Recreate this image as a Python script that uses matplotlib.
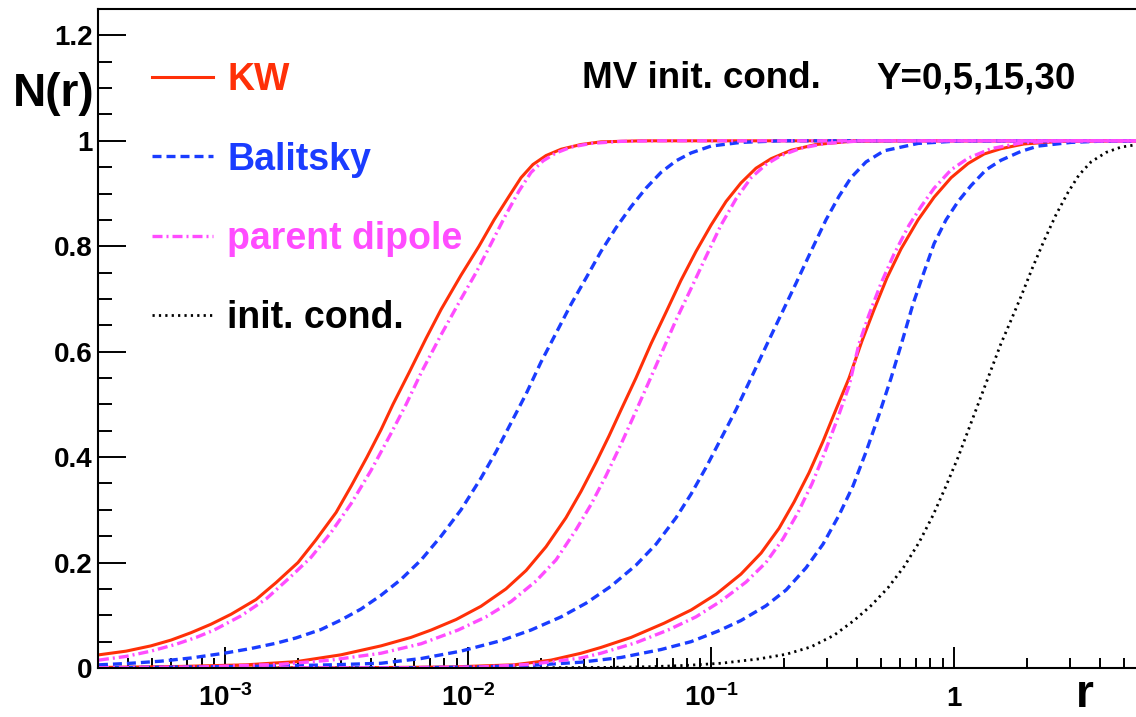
import numpy as np
import matplotlib.pyplot as plt
from matplotlib.lines import Line2D
from matplotlib.ticker import FixedLocator, FixedFormatter, MultipleLocator, LogLocator, NullFormatter

plt.rcParams['font.family'] = ['Liberation Sans', 'DejaVu Sans']
plt.rcParams['font.weight'] = 'bold'
plt.rcParams['mathtext.fontset'] = 'custom'
plt.rcParams['mathtext.rm'] = 'Liberation Sans:bold'
plt.rcParams['mathtext.bf'] = 'Liberation Sans:bold'
plt.rcParams['mathtext.it'] = 'Liberation Sans:bold'
plt.rcParams['mathtext.default'] = 'rm'

# dipole amplitude N(r); r given as log10(r)
kw_y30_logr = [-3.519, -3.407, -3.305, -3.222, -3.140, -3.058, -2.975, -2.872, -2.790, -2.700,
               -2.626, -2.543, -2.481, -2.416, -2.358, -2.309, -2.243, -2.173, -2.111, -2.029,
               -1.955, -1.893, -1.831, -1.782, -1.733, -1.679, -1.617, -1.535, -1.453, -1.288, 1.0]
kw_y30_n = [0.025, 0.032, 0.042, 0.053, 0.067, 0.083, 0.102, 0.13, 0.162, 0.2,
            0.243, 0.295, 0.345, 0.4, 0.452, 0.5, 0.56, 0.625, 0.68, 0.745,
            0.8, 0.85, 0.895, 0.93, 0.955, 0.972, 0.984, 0.993, 0.998, 1.0, 1.0]

pd_y30_logr = [-3.519, -3.407, -3.305, -3.202, -3.119, -3.045, -2.934, -2.831, -2.728, -2.646,
               -2.564, -2.481, -2.399, -2.317, -2.255, -2.193, -2.111, -2.029, -1.967, -1.905,
               -1.844, -1.790, -1.741, -1.691, -1.638, -1.576, -1.494, -1.370, -1.206, 1.0]
pd_y30_n = [0.015, 0.022, 0.032, 0.045, 0.058, 0.072, 0.099, 0.131, 0.174, 0.21,
            0.257, 0.312, 0.375, 0.445, 0.5, 0.56, 0.632, 0.7, 0.75, 0.805,
            0.86, 0.905, 0.94, 0.962, 0.977, 0.988, 0.995, 0.999, 1.0, 1.0]

bal_y30_logr = [-3.519, -3.387, -3.263, -3.140, -3.004, -2.893, -2.790, -2.708, -2.605, -2.523,
                -2.440, -2.358, -2.276, -2.193, -2.111, -2.029, -1.947, -1.885, -1.823, -1.761,
                -1.700, -1.638, -1.576, -1.514, -1.453, -1.391, -1.329, -1.268, -1.206, -1.144,
                -1.082, -1.0, -0.877, -0.712, 1.0]
bal_y30_n = [0.006, 0.009, 0.013, 0.019, 0.028, 0.037, 0.047, 0.057, 0.073, 0.091,
             0.112, 0.138, 0.168, 0.205, 0.25, 0.3, 0.36, 0.41, 0.465, 0.52,
             0.58, 0.635, 0.69, 0.74, 0.79, 0.835, 0.875, 0.91, 0.94, 0.962,
             0.977, 0.99, 0.997, 1.0, 1.0]

kw_y15_logr = [-3.519, -3.181, -2.914, -2.708, -2.523, -2.358, -2.235, -2.152, -2.049, -1.947,
               -1.844, -1.761, -1.679, -1.597, -1.535, -1.473, -1.420, -1.370, -1.309, -1.247,
               -1.185, -1.124, -1.062, -1.0, -0.938, -0.877, -0.815, -0.753, -0.671, -0.568,
               -0.424, -0.218, 1.0]
kw_y15_n = [0.001, 0.003, 0.006, 0.012, 0.025, 0.042, 0.058, 0.072, 0.092, 0.117,
            0.15, 0.185, 0.23, 0.285, 0.335, 0.39, 0.44, 0.49, 0.55, 0.615,
            0.675, 0.735, 0.79, 0.84, 0.885, 0.92, 0.948, 0.966, 0.982, 0.993,
            0.999, 1.0, 1.0]

pd_y15_logr = [-3.519, -3.099, -2.770, -2.564, -2.358, -2.193, -2.041, -1.926, -1.823, -1.720,
               -1.638, -1.556, -1.494, -1.432, -1.370, -1.321, -1.268, -1.206, -1.144, -1.082,
               -1.021, -0.959, -0.897, -0.835, -0.774, -0.712, -0.630, -0.527, -0.383, 1.0]
pd_y15_n = [0.0005, 0.002, 0.007, 0.015, 0.028, 0.046, 0.072, 0.097, 0.126, 0.165,
            0.205, 0.262, 0.31, 0.365, 0.425, 0.475, 0.53, 0.595, 0.66, 0.72,
            0.78, 0.84, 0.89, 0.93, 0.955, 0.972, 0.986, 0.995, 1.0, 1.0]

bal_y15_logr = [-3.519, -2.893, -2.564, -2.358, -2.193, -2.029, -1.864, -1.741, -1.617, -1.514,
                -1.412, -1.309, -1.226, -1.144, -1.082, -1.021, -0.959, -0.897, -0.835, -0.774,
                -0.712, -0.650, -0.589, -0.527, -0.473, -0.424, -0.362, -0.288, -0.148, 0.029, 1.0]
bal_y15_n = [0.0005, 0.003, 0.006, 0.009, 0.018, 0.032, 0.052, 0.072, 0.097, 0.123,
             0.155, 0.195, 0.235, 0.285, 0.33, 0.38, 0.435, 0.49, 0.55, 0.61,
             0.67, 0.73, 0.79, 0.85, 0.895, 0.93, 0.96, 0.981, 0.995, 1.0, 1.0]

kw_y5_logr = [-3.519, -2.481, -2.070, -1.811, -1.658, -1.535, -1.453, -1.329, -1.193, -1.082,
              -0.979, -0.877, -0.794, -0.720, -0.658, -0.597, -0.539, -0.486, -0.432, -0.379,
              -0.329, -0.276, -0.218, -0.148, -0.082, -0.012, 0.058, 0.124, 0.193, 0.288,
              0.440, 0.605, 1.0]
kw_y5_n = [0.0, 0.0003, 0.002, 0.006, 0.015, 0.028, 0.039, 0.058, 0.085, 0.11,
           0.14, 0.178, 0.218, 0.265, 0.315, 0.37, 0.43, 0.49, 0.55, 0.62,
           0.68, 0.74, 0.795, 0.85, 0.893, 0.93, 0.957, 0.975, 0.985, 0.994,
           0.999, 1.0, 1.0]

pd_y5_logr = [-3.519, -2.276, -1.947, -1.741, -1.535, -1.453, -1.309, -1.177, -1.062, -0.959,
              -0.856, -0.774, -0.704, -0.642, -0.584, -0.531, -0.482, -0.432, -0.391, -0.350,
              -0.300, -0.247, -0.185, -0.136, -0.082, -0.012, 0.058, 0.152, 0.276, 0.440, 1.0]
pd_y5_n = [0.0, 0.0005, 0.002, 0.007, 0.019, 0.028, 0.048, 0.072, 0.097, 0.127,
           0.163, 0.2, 0.245, 0.295, 0.35, 0.41, 0.47, 0.535, 0.615, 0.67,
           0.73, 0.785, 0.84, 0.875, 0.91, 0.945, 0.967, 0.985, 0.996, 1.0, 1.0]

bal_y5_logr = [-3.519, -2.276, -1.947, -1.741, -1.535, -1.370, -1.206, -1.082, -0.971, -0.877,
               -0.774, -0.691, -0.609, -0.539, -0.473, -0.416, -0.362, -0.309, -0.259, -0.210,
               -0.169, -0.128, -0.082, -0.033, 0.017, 0.070, 0.132, 0.193, 0.276, 0.346,
               0.482, 0.646, 1.0]
bal_y5_n = [0.0, 0.0003, 0.002, 0.005, 0.011, 0.02, 0.035, 0.05, 0.07, 0.09,
            0.118, 0.148, 0.19, 0.235, 0.29, 0.345, 0.41, 0.48, 0.55, 0.625,
            0.69, 0.745, 0.805, 0.85, 0.885, 0.915, 0.945, 0.963, 0.98, 0.99,
            0.997, 1.0, 1.0]

init_logr = [-3.519, -1.864, -1.453, -1.247, -1.099, -0.959, -0.807, -0.691, -0.589, -0.494,
             -0.412, -0.342, -0.272, -0.206, -0.144, -0.086, -0.033, 0.017, 0.062, 0.107,
             0.152, 0.193, 0.235, 0.276, 0.321, 0.370, 0.420, 0.469, 0.514, 0.564,
             0.626, 0.687, 0.770, 1.0]
init_n = [0.0, 0.0002, 0.001, 0.0025, 0.005, 0.009, 0.017, 0.026, 0.04, 0.062,
          0.09, 0.118, 0.152, 0.192, 0.238, 0.29, 0.345, 0.4, 0.455, 0.51,
          0.565, 0.615, 0.66, 0.705, 0.757, 0.81, 0.86, 0.902, 0.935, 0.96,
          0.978, 0.988, 0.994, 1.0]

x_ticks = [1e-3, 1e-2, 1e-1, 1]
x_ticklabels = [r'$10^{-3}$', r'$10^{-2}$', r'$10^{-1}$', '1']
y_ticks = [0, 0.2, 0.4, 0.6, 0.8, 1, 1.2]
y_ticklabels = ['0', '0.2', '0.4', '0.6', '0.8', '1', '1.2']

red = '#ff3008'
blue = '#1a3cff'
magenta = '#ff4cff'

W, H = 1136, 717
fig = plt.figure(figsize=(W / 100, H / 100), dpi=100)
ax = fig.add_axes([98 / W, 49 / H, 1099 / W, 659 / H])

kw_style = dict(color=red, lw=2.2, ls='-')
bal_style = dict(color=blue, lw=2.4, ls=(0, (2.7, 1.5)))
pd_style = dict(color=magenta, lw=2.4, ls=(0, (3.0, 1.2, 0.6, 1.2)))
init_style = dict(color='black', lw=2.0, ls=(0, (0.8, 1.5)))

ax.plot(10 ** np.array(init_logr), init_n, **init_style)
for lr, n in [(kw_y30_logr, kw_y30_n), (kw_y15_logr, kw_y15_n), (kw_y5_logr, kw_y5_n)]:
    ax.plot(10 ** np.array(lr), n, **kw_style)
for lr, n in [(bal_y30_logr, bal_y30_n), (bal_y15_logr, bal_y15_n), (bal_y5_logr, bal_y5_n)]:
    ax.plot(10 ** np.array(lr), n, **bal_style)
for lr, n in [(pd_y30_logr, pd_y30_n), (pd_y15_logr, pd_y15_n), (pd_y5_logr, pd_y5_n)]:
    ax.plot(10 ** np.array(lr), n, **pd_style)

ax.set_xscale('log')
ax.set_xlim(3e-4, 10)
ax.set_ylim(0, 1.25)

ax.xaxis.set_major_locator(FixedLocator(x_ticks))
ax.xaxis.set_major_formatter(FixedFormatter(x_ticklabels))
ax.xaxis.set_minor_locator(LogLocator(base=10, subs=np.arange(2, 10)))
ax.xaxis.set_minor_formatter(NullFormatter())
ax.yaxis.set_major_locator(FixedLocator(y_ticks))
ax.yaxis.set_major_formatter(FixedFormatter(y_ticklabels))
ax.yaxis.set_minor_locator(MultipleLocator(0.05))

ax.tick_params(axis='both', which='both', direction='in', width=1.4, labelsize=20)
ax.tick_params(axis='y', which='major', length=20, pad=4)
ax.tick_params(axis='y', which='minor', length=10)
ax.tick_params(axis='x', which='major', length=15, pad=11.5)
ax.tick_params(axis='x', which='minor', length=7.5)
# the plain "1" label has no exponent, push it down to line up with the "10"s
ax.xaxis.get_major_ticks()[3].set_pad(13)
for s in ax.spines.values():
    s.set_linewidth(1.5)

fig.text(95 / W, 1 - 106 / H, 'N(r)', ha='right', va='baseline', fontsize=33)
fig.text(1094 / W, 1 - 707 / H, 'r', ha='right', va='baseline', fontsize=33)
fig.text(582 / W, 1 - 88 / H, 'MV init. cond.', ha='left', va='baseline', fontsize=26.5)
fig.text(876 / W, 1 - 88 / H, 'Y=0,5,15,30', ha='left', va='baseline', fontsize=26.5)

handles = [Line2D([], [], **kw_style), Line2D([], [], **bal_style),
           Line2D([], [], **pd_style), Line2D([], [], **init_style)]
labels = ['KW', 'Balitsky', 'parent dipole', 'init. cond.']
ax.legend(handles, labels, loc='upper left', bbox_to_anchor=(152 / W, 1 - 62 / H),
          bbox_transform=fig.transFigure, frameon=False, fontsize=27,
          handlelength=1.63, handletextpad=0.37, labelspacing=1.16,
          borderpad=0, borderaxespad=0, labelcolor='linecolor')

fig.savefig('out.png', dpi=100)
